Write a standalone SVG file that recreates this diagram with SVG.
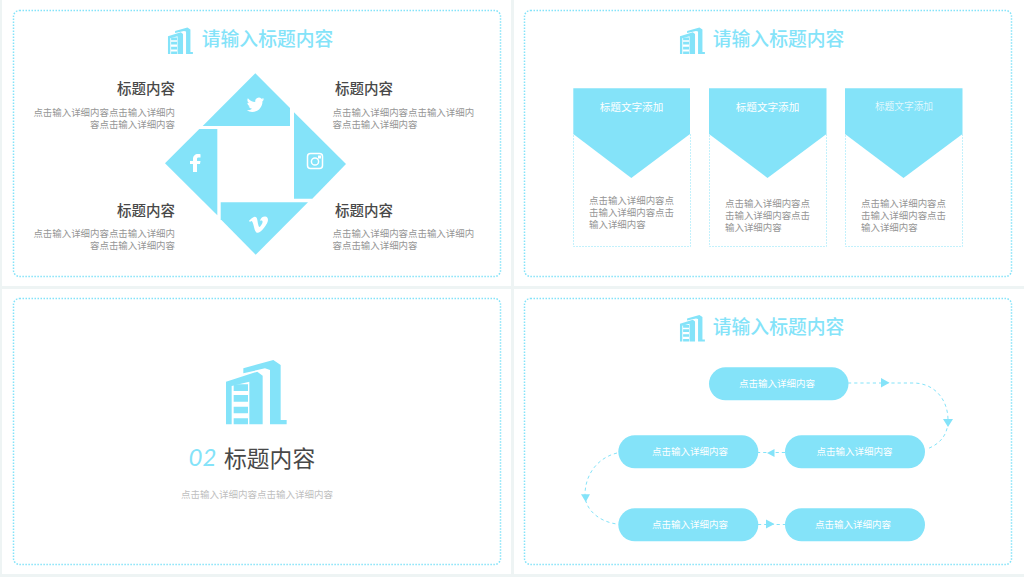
<svg xmlns="http://www.w3.org/2000/svg" width="1024" height="577" viewBox="0 0 1024 577">
<style>
text{font-family:"Noto Sans CJK SC","Noto Sans",sans-serif}
.panel{fill:none;stroke:#84e3f9;stroke-width:1.5;stroke-dasharray:1.5 1.5}
.b{fill:#84e3f9}
.title{font-size:18.8px;fill:#84e3f9;font-weight:500}
.h{font-size:14.5px;fill:#484848;font-weight:500}
.body{font-size:9.45px;fill:#969696}
.end{text-anchor:end}
.ch{font-size:10.6px;fill:#fff;text-anchor:middle}
.card{fill:none;stroke:#84e3f9;stroke-width:.7;stroke-dasharray:2 1;opacity:.7}
.pt{font-size:9.5px;fill:#fff;text-anchor:middle}
.conn{fill:none;stroke:#84e3f9;stroke-width:1;stroke-dasharray:3.2 3}
</style>
<defs>
<g id="bld" class="b">
<path d="M18 80L112 50L128 62V208H88V80L35 93V208H18Z"/>
<path d="M41 88H84V108H41ZM41 120H84V140H41ZM41 155H84V175H41ZM41 190H84V208H41Z"/>
<path d="M70 40L160 15L182 30V195H200V208H150V45L135 40L70 55Z"/>
</g>
</defs>
<rect width="1024" height="577" fill="#eef4f4"/>
<rect x="2" y="0" width="509" height="286" fill="#fff"/>
<rect x="514" y="0" width="510" height="286" fill="#fff"/>
<rect x="2" y="289" width="509" height="285" fill="#fff"/>
<rect x="514" y="289" width="510" height="285" fill="#fff"/>
<rect class="panel" x="13.500" y="10.500" width="487" height="266" rx="6"/>
<rect class="panel" x="524.500" y="10.500" width="487" height="266" rx="6"/>
<rect class="panel" x="13.500" y="298.500" width="487" height="266" rx="6"/>
<rect class="panel" x="524.500" y="298.500" width="487" height="266" rx="6"/>

<g id="slide1">
<use href="#bld" transform="translate(165.500 25.400) scale(.137)"/>
<text class="title" x="201.800" y="46">请输入标题内容</text>
<g id="n-top"><polygon class="b" points="255.3,73.3 290,108 290,126 202.7,126"/>
<path fill="#fff" transform="translate(246.700 96) scale(.73)" d="M23.953 4.57a10 10 0 01-2.825.775 4.958 4.958 0 002.163-2.723c-.951.555-2.005.959-3.127 1.184a4.92 4.92 0 00-8.384 4.482C7.69 8.095 4.067 6.13 1.64 3.162a4.822 4.822 0 00-.666 2.475c0 1.71.87 3.213 2.188 4.096a4.904 4.904 0 01-2.228-.616v.06a4.923 4.923 0 003.946 4.827 4.996 4.996 0 01-2.212.085 4.936 4.936 0 004.604 3.417 9.867 9.867 0 01-6.102 2.105c-.39 0-.779-.023-1.17-.067a13.995 13.995 0 007.557 2.209c9.053 0 13.998-7.496 13.998-13.985 0-.21 0-.42-.015-.63A9.935 9.935 0 0024 4.59z"/></g>
<g id="n-right"><polygon class="b" points="294,112.3 346,164 312.3,198.7 294,198.7"/>
<rect x="307.500" y="153.500" width="15" height="15" rx="3" fill="none" stroke="#fff" stroke-width="1.5"/>
<circle cx="315" cy="161.500" r="3.600" fill="none" stroke="#fff" stroke-width="1.5"/>
<rect x="318" y="155.500" width="3" height="3" fill="#fff"/></g>
<g id="n-bottom"><polygon class="b" points="220.7,202.3 308,202.3 255.7,254.7 220.7,219.3"/>
<path fill="#fff" transform="translate(249 215.100) scale(.79)" d="M23.9765 6.4168c-.105 2.338-1.739 5.5429-4.894 9.6088-3.2679 4.247-6.0258 6.3699-8.2898 6.3699-1.409 0-2.578-1.294-3.553-3.881l-1.9179-7.1138c-.719-2.584-1.488-3.878-2.3109-3.878-.179 0-.806.378-1.8809 1.132L0 7.2678c1.1867-1.0503 2.3547-2.1005 3.5037-3.1508 1.5808-1.3658 2.7648-2.0848 3.5528-2.1578 1.8679-.18 3.0229 1.099 3.4569 3.8378.4659 2.9539.7889 4.7889.9689 5.5059.54 2.45 1.1339 3.674 1.7829 3.674.5 0 1.2539-.794 2.2609-2.381.999-1.587 1.5339-2.795 1.6069-3.623.145-1.369-.394-2.054-1.6099-2.054-.574 0-1.165.131-1.7769.394 1.1789-3.859 3.4349-5.7378 6.7658-5.6278 2.4699.074 3.6359 1.6759 3.4669 4.8108z"/></g>
<g id="n-left"><polygon class="b" points="199.3,129 217.3,129 217.3,215.3 165,163.3"/>
<path fill="#fff" transform="translate(187 154)" d="M10 18V10H13L13.5 7H10V5C10 4 10.500 3.500 11.500 3.500H13.500V.3C13 .2 12 0 11 0C8 0 6 2 6 5V7H3V10H6V18Z"/></g>
<g id="t1"><text class="h end" x="175" y="94">标题内容</text><text class="body end" x="175" y="116">点击输入详细内容点击输入详细内</text><text class="body end" x="175" y="128">容点击输入详细内容</text></g>
<g id="t2"><text class="h" x="335" y="94">标题内容</text><text class="body" x="332.500" y="116">点击输入详细内容点击输入详细内</text><text class="body" x="332.500" y="128">容点击输入详细内容</text></g>
<g id="t3"><text class="h end" x="175" y="215.500">标题内容</text><text class="body end" x="175" y="237">点击输入详细内容点击输入详细内</text><text class="body end" x="175" y="249">容点击输入详细内容</text></g>
<g id="t4"><text class="h" x="335" y="215.500">标题内容</text><text class="body" x="332.500" y="237">点击输入详细内容点击输入详细内</text><text class="body" x="332.500" y="249">容点击输入详细内容</text></g>
</g>

<g id="slide2">
<use href="#bld" transform="translate(677.500 25.400) scale(.137)"/>
<text class="title" x="712.800" y="46">请输入标题内容</text>
<g id="card1"><rect class="card" x="573.500" y="134" width="117" height="112.500"/><polygon class="b" points="573.3,88.3 690,88.3 690,134 631.3,178 573.3,134"/>
<text class="ch" x="631.500" y="111">标题文字添加</text>
<text class="body" x="589" y="203.500">点击输入详细内容点</text><text class="body" x="589" y="215.500">击输入详细内容点击</text><text class="body" x="589" y="227.500">输入详细内容</text></g>
<g id="card2"><rect class="card" x="709.500" y="134" width="117" height="112.500"/><polygon class="b" points="709,88.3 826.5,88.3 826.5,134 767.5,178 709,134"/>
<text class="ch" x="767.500" y="111">标题文字添加</text>
<text class="body" x="725" y="206.500">点击输入详细内容点</text><text class="body" x="725" y="218.500">击输入详细内容点击</text><text class="body" x="725" y="230.500">输入详细内容</text></g>
<g id="card3"><rect class="card" x="845.500" y="134" width="117" height="112.500"/><polygon class="b" points="845,88.3 962.5,88.3 962.5,134 903.5,178 845,134"/>
<text class="ch" style="font-size:9.7px;font-weight:300" x="904" y="110">标题文字添加</text>
<text class="body" x="861" y="207">点击输入详细内容点</text><text class="body" x="861" y="219">击输入详细内容点击</text><text class="body" x="861" y="231">输入详细内容</text></g>
</g>

<g id="slide3">
<use href="#bld" transform="translate(220 355) scale(.3333)"/>
<text x="188.500" y="466" style="font-family:Lato,'Open Sans',sans-serif;font-style:italic;font-weight:400;font-size:24px" fill="#84e3f9">02</text>
<text x="224" y="467" style="font-size:22.8px" fill="#484848">标题内容</text>
<text x="181" y="498" style="font-size:9.5px" fill="#c0c0c0">点击输入详细内容点击输入详细内容</text>
</g>

<g id="slide4">
<use href="#bld" transform="translate(677.500 312.900) scale(.137)"/>
<text class="title" x="712.800" y="334">请输入标题内容</text>
<g id="connectors">
<path class="conn" d="M848 383H913C935 383 948 400 948 420C948 435 940 444 927 449"/>
<path class="conn" d="M785 452.500H758"/>
<path class="conn" d="M617 453C597 458 585 475 585 495C585 510 600 522 617 524"/>
<path class="conn" d="M758 524.500H785"/>
<polygon class="b" points="881,378 889.500,382.800 881,387.500"/>
<polygon class="b" points="943,419 953,419 948,427"/>
<polygon class="b" points="774.500,449 767,453 774.500,457"/>
<polygon class="b" points="581,494.300 590,494.300 585.700,502"/>
<polygon class="b" points="766,519.500 774.500,524 766,528.500"/>
</g>
<g id="p1"><rect class="b" x="709" y="367.300" width="139.500" height="33" rx="16.500"/><text class="pt" x="777" y="387">点击输入详细内容</text></g>
<g id="p2"><rect class="b" x="785" y="435.300" width="140" height="33" rx="16.500"/><text class="pt" x="854.500" y="455">点击输入详细内容</text></g>
<g id="p3"><rect class="b" x="618.300" y="435.300" width="140" height="33" rx="16.500"/><text class="pt" x="690" y="455">点击输入详细内容</text></g>
<g id="p4"><rect class="b" x="618.300" y="508.300" width="140" height="33" rx="16.500"/><text class="pt" x="690" y="528">点击输入详细内容</text></g>
<g id="p5"><rect class="b" x="785" y="508.300" width="140" height="33" rx="16.500"/><text class="pt" x="853" y="528">点击输入详细内容</text></g>
</g>
</svg>
